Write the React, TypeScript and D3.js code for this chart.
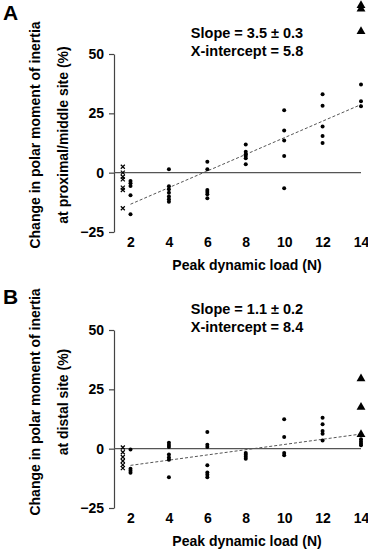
import React, { useRef, useEffect } from 'react'
import * as d3 from 'd3'

// x positions (peak dynamic load, N); controls are plotted just left of 2
const xTicks = [2, 4, 6, 8, 10, 12, 14]
const yTicks = [50, 25, 0, -25]
const controlX = 1.6

// Panel A: proximal/middle site
const controlA = [2.5, 0, -1.7, -2.8, -6.3, -7.3, -15]
const dotsA = [
    { load: 2, values: [-3.5, -4.5, -5.6, -9.5, -17.5] },
    { load: 4, values: [1.4, -5.7, -7, -8.5, -10, -11.2, -12.3] },
    { load: 6, values: [4.6, 1.4, -7.3, -8.1, -9.1, -10.8] },
    { load: 8, values: [11.9, 8.8, 7.8, 7, 6.1, 3.5] },
    { load: 10, values: [26.3, 17.8, 13.6, 7, -6.6] },
    { load: 12, values: [33, 28.2, 19.5, 15.4, 12.5] },
    { load: 14, values: [37.1, 30.1, 28] },
]
const trianglesA = [70.5, 69, 59.5]
const fitA = { slope: 3.5, err: 0.3, xIntercept: 5.8 }

// Panel B: distal site
const controlB = [0.5, -1.5, -3.5, -5.2, -6.8, -8.2]
const dotsB = [
    { load: 2, values: [-0.3, -8.5, -9.3, -10.2] },
    { load: 4, values: [2.5, 1.5, 0.7, -2.5, -3.7, -4.7, -12] },
    { load: 6, values: [7, 1.7, 0.7, -7, -10, -11, -12] },
    { load: 8, values: [-1.8, -2.6, -3.4, -4.2] },
    { load: 10, values: [12.4, 4.9, -1.8, -2.8] },
    { load: 12, values: [13, 10.3, 7.4, 6.3, 3.4] },
    { load: 14, values: [4, 3, 2.2, 1.4] },
]
const trianglesB = [29.5, 17.5, 6]
const fitB = { slope: 1.1, err: 0.2, xIntercept: 8.4 }

const panels = [
    { letter: 'A', site: 'at proximal/middle site (%)', control: controlA, dots: dotsA, triangles: trianglesA, fit: fitA, top: 54, bottom: 232, letterY: 20, labelY: 135 },
    { letter: 'B', site: 'at distal site (%)', control: controlB, dots: dotsB, triangles: trianglesB, fit: fitB, top: 330, bottom: 508, letterY: 304, labelY: 402 },
]

const FONT = 'Liberation Sans, Arial, sans-serif'

export default function App() {
    const svgRef = useRef<SVGSVGElement>(null)

    useEffect(() => {
        if (!svgRef.current) return
        const svg = d3.select(svgRef.current)
        svg.selectAll('*').remove()

        const x = d3.scaleLinear().domain([2, 14]).range([130.5, 361])
        const axisX = 114

        panels.forEach(p => {
            const y = d3.scaleLinear().domain([-25, 50]).range([p.bottom, p.top])
            const g = svg.append('g')

            // panel letter
            g.append('text')
                .attr('x', 3).attr('y', p.letterY)
                .style('font-family', FONT).style('font-weight', 'bold').style('font-size', '21px')
                .text(p.letter)

            // y axis title (two lines)
            const labels = ['Change in polar moment of inertia', p.site]
            labels.forEach((t, i) => {
                g.append('text')
                    .attr('transform', `translate(${40 + i * 28},${p.labelY}) rotate(-90)`)
                    .attr('text-anchor', 'middle')
                    .style('font-family', FONT).style('font-weight', 'bold').style('font-size', '14px')
                    .text(t)
            })

            // y axis
            g.append('g')
                .attr('transform', `translate(${axisX},0)`)
                .call(d3.axisLeft(y).tickValues(yTicks).tickSize(5).tickSizeOuter(0).tickPadding(5))
                .call(a => a.select('.domain').attr('stroke', '#444').attr('stroke-width', 1.2))
                .call(a => a.selectAll('line').attr('stroke', '#444').attr('stroke-width', 1.2))
                .call(a => a.selectAll('text').attr('fill', '#000').style('font-family', FONT).style('font-weight', 'bold').style('font-size', '14px'))

            // zero line
            g.append('line')
                .attr('x1', axisX).attr('x2', x(14))
                .attr('y1', y(0)).attr('y2', y(0))
                .attr('stroke', '#555').attr('stroke-width', 1.4)

            // x tick labels (no axis line)
            g.append('g')
                .attr('transform', `translate(0,${p.bottom})`)
                .call(d3.axisBottom(x).tickValues(xTicks).tickSize(0).tickPadding(5))
                .call(a => a.select('.domain').remove())
                .call(a => a.selectAll('text').attr('fill', '#000').style('font-family', FONT).style('font-weight', 'bold').style('font-size', '14px'))

            g.append('text')
                .attr('x', 247).attr('y', p.bottom + 38)
                .attr('text-anchor', 'middle')
                .style('font-family', FONT).style('font-weight', 'bold').style('font-size', '14px')
                .text('Peak dynamic load (N)')

            // regression line
            const fy = (v: number) => p.fit.slope * (v - p.fit.xIntercept)
            g.append('line')
                .attr('x1', x(2)).attr('y1', y(fy(2)))
                .attr('x2', x(14)).attr('y2', y(fy(14)))
                .attr('stroke', '#555').attr('stroke-width', 1).attr('stroke-dasharray', '3,2')

            // annotation
            const ann = [`Slope = ${p.fit.slope} ± ${p.fit.err}`, `X-intercept = ${p.fit.xIntercept}`]
            ann.forEach((t, i) => {
                g.append('text')
                    .attr('x', 247).attr('y', p.top - 16 + i * 18)
                    .attr('text-anchor', 'middle')
                    .style('font-family', FONT).style('font-weight', 'bold').style('font-size', '14.5px')
                    .text(t)
            })

            // control crosses
            const cx = x(controlX)
            p.control.forEach(v => {
                const cy = y(v)
                g.append('path')
                    .attr('d', `M${cx - 2},${cy - 2}L${cx + 2},${cy + 2}M${cx - 2},${cy + 2}L${cx + 2},${cy - 2}`)
                    .attr('stroke', '#000').attr('stroke-width', 1.2).attr('fill', 'none')
            })

            // dots
            p.dots.forEach(d => {
                d.values.forEach(v => {
                    g.append('circle')
                        .attr('cx', x(d.load)).attr('cy', y(v))
                        .attr('r', 2).attr('fill', '#000')
                })
            })

            // triangles at 14 N
            const tri = d3.symbol().type(d3.symbolTriangle).size(34)
            p.triangles.forEach(v => {
                g.append('path')
                    .attr('d', tri)
                    .attr('transform', `translate(${x(14)},${y(v)})`)
                    .attr('fill', '#000')
            })
        })
    }, [])

    return (
        <svg ref={svgRef} width={368} height={549}
            style={{ position: 'absolute', left: 0, top: 0, background: '#fff' }} />
    )
}
